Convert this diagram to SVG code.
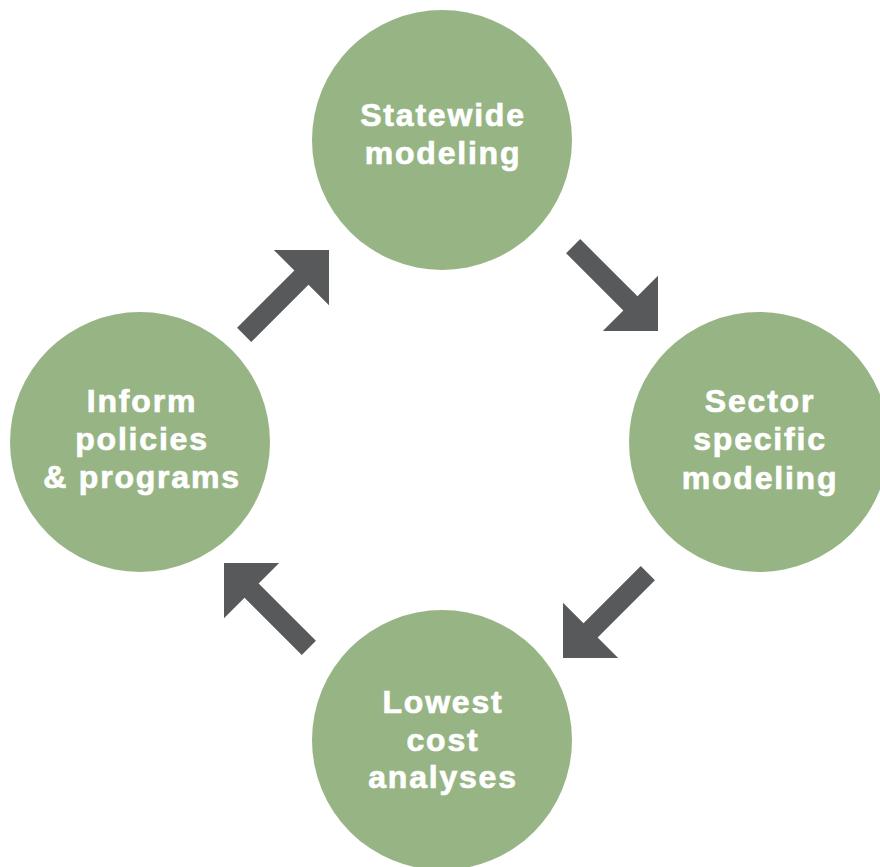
<svg xmlns="http://www.w3.org/2000/svg" width="880" height="867" viewBox="0 0 880 867">
<style>
.node{fill:#97b584}
.lbl{font-family:"Liberation Sans",Arial,sans-serif;font-weight:bold;font-size:32px;fill:#ffffff;stroke:#ffffff;stroke-width:0.7px;text-anchor:middle;letter-spacing:1.8px}
.arr{fill:#58595b}
</style>
<defs>
<polygon id="arrow" points="0,0 -39,39 -39,10 -120,10 -120,-10 -39,-10 -39,-39"/>
</defs>
<rect width="880" height="867" fill="#ffffff"/>
<g id="connectors">
<use href="#arrow" class="arr" transform="translate(658,331) rotate(45)"/>
<use href="#arrow" class="arr" transform="translate(563,658) rotate(135)"/>
<use href="#arrow" class="arr" transform="translate(224,563) rotate(225)"/>
<use href="#arrow" class="arr" transform="translate(329,250) rotate(-45)"/>
</g>
<g id="statewide">
<circle class="node" cx="442" cy="140" r="130"/>
<text class="lbl" x="443" y="126">Statewide</text>
<text class="lbl" x="443" y="164">modeling</text>
</g>
<g id="sector">
<circle class="node" cx="759" cy="442" r="130"/>
<text class="lbl" x="760" y="412">Sector</text>
<text class="lbl" x="760" y="450">specific</text>
<text class="lbl" x="760" y="489">modeling</text>
</g>
<g id="lowest">
<circle class="node" cx="442" cy="740" r="130"/>
<text class="lbl" x="443" y="713">Lowest</text>
<text class="lbl" x="443" y="751">cost</text>
<text class="lbl" x="443" y="788">analyses</text>
</g>
<g id="inform">
<circle class="node" cx="140" cy="442" r="130"/>
<text class="lbl" x="142" y="412">Inform</text>
<text class="lbl" x="142" y="450">policies</text>
<text class="lbl" x="142" y="488">&amp; programs</text>
</g>
</svg>
